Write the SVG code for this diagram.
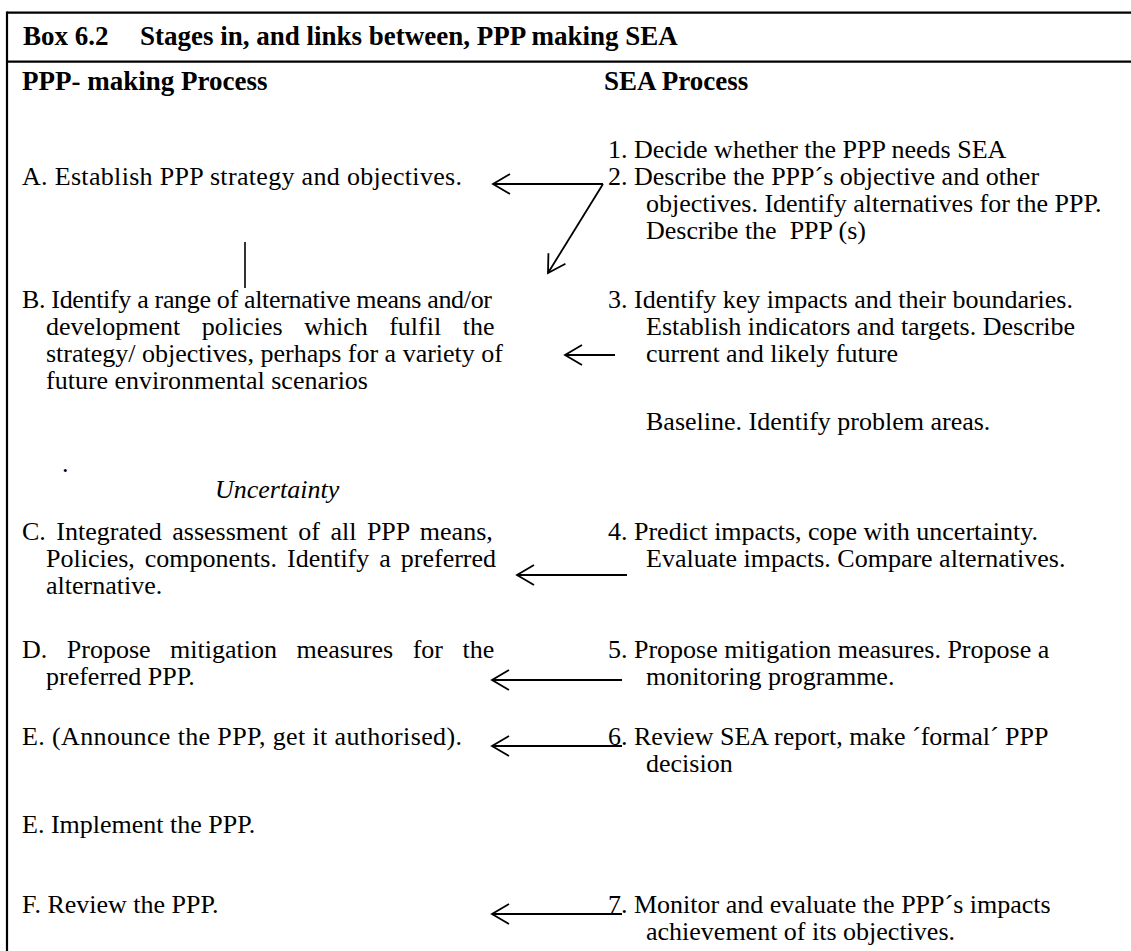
<svg xmlns="http://www.w3.org/2000/svg" width="1131" height="951" viewBox="0 0 1131 951">
<style>
text{font-family:"Liberation Serif","Times New Roman",serif;font-size:26px;fill:#000}
.b{font-weight:bold;font-size:27px}
.i{font-style:italic}
.frame{stroke:#000;stroke-width:2.2;fill:none}
.arr{stroke:#000;stroke-width:1.8;fill:none;marker-end:url(#ah)}
</style>
<defs>
<marker id="ah" markerUnits="userSpaceOnUse" markerWidth="40" markerHeight="40" viewBox="-20 -20 40 40" refX="0" refY="0" orient="auto" overflow="visible">
<path d="M-17,-10 L0,0 L-17,10" fill="none" stroke="#000" stroke-width="1.8"/>
</marker>
</defs>
<rect width="1131" height="951" fill="#fff"/>
<g id="frame">
<line class="frame" x1="7" y1="12.7" x2="1131" y2="12.7"/>
<line class="frame" x1="7" y1="61.7" x2="1131" y2="61.7"/>
<line class="frame" x1="7" y1="11.6" x2="7" y2="951"/>
</g>
<g id="title">
<text class="b" x="23" y="45">Box 6.2</text>
<text class="b" x="140" y="45">Stages in, and links between, PPP making SEA</text>
</g>
<g id="headers">
<text class="b" x="22" y="90">PPP- making Process</text>
<text class="b" x="604" y="90">SEA Process</text>
</g>
<g id="nodeA"><text x="22" y="185" textLength="440" lengthAdjust="spacing">A. Establish PPP strategy and objectives.</text></g>
<g id="nodeB">
<text x="22" y="308" textLength="470" lengthAdjust="spacing">B. Identify a range of alternative means and/or</text>
<text x="46" y="335" word-spacing="15">development policies which fulfil the</text>
<text x="46" y="362">strategy/ objectives, perhaps for a variety of</text>
<text x="46" y="389">future environmental scenarios</text>
</g>
<g id="dot"><text x="62" y="472">.</text></g>
<g id="uncertainty"><text class="i" x="215" y="498">Uncertainty</text></g>
<g id="nodeC">
<text x="22" y="540" word-spacing="4">C. Integrated assessment of all PPP means,</text>
<text x="46" y="567" word-spacing="3.5">Policies, components. Identify a preferred</text>
<text x="46" y="594">alternative.</text>
</g>
<g id="nodeD">
<text x="22" y="658" word-spacing="13">D. Propose mitigation measures for the</text>
<text x="46" y="685">preferred PPP.</text>
</g>
<g id="nodeE1"><text x="22" y="745" textLength="440" lengthAdjust="spacing">E. (Announce the PPP, get it authorised).</text></g>
<g id="nodeE2"><text x="22" y="833">E. Implement the PPP.</text></g>
<g id="nodeF"><text x="22" y="913">F. Review the PPP.</text></g>
<g id="node1"><text x="608" y="158">1. Decide whether the PPP needs SEA</text></g>
<g id="node2">
<text x="608" y="185">2. Describe the PPP´s objective and other</text>
<text x="646" y="212">objectives. Identify alternatives for the PPP.</text>
<text x="646" y="239" xml:space="preserve">Describe the  PPP (s)</text>
</g>
<g id="node3">
<text x="608" y="308">3. Identify key impacts and their boundaries.</text>
<text x="646" y="335">Establish indicators and targets. Describe</text>
<text x="646" y="362">current and likely future</text>
<text x="646" y="430">Baseline. Identify problem areas.</text>
</g>
<g id="node4">
<text x="608" y="540">4. Predict impacts, cope with uncertainty.</text>
<text x="646" y="567">Evaluate impacts. Compare alternatives.</text>
</g>
<g id="node5">
<text x="608" y="658">5. Propose mitigation measures. Propose a</text>
<text x="646" y="685">monitoring programme.</text>
</g>
<g id="node6">
<text x="608" y="745">6. Review SEA report, make ´formal´ PPP</text>
<text x="646" y="772">decision</text>
</g>
<g id="node7">
<text x="608" y="913">7. Monitor and evaluate the PPP´s impacts</text>
<text x="646" y="940">achievement of its objectives.</text>
</g>
<g id="connectors">
<line class="arr" x1="603" y1="184" x2="493" y2="184"/>
<line class="arr" x1="603" y1="184" x2="548" y2="273"/>
<line x1="245" y1="242" x2="245" y2="288" stroke="#000" stroke-width="1.6"/>
<line class="arr" x1="615" y1="355" x2="565" y2="355"/>
<line class="arr" x1="627" y1="575" x2="517" y2="575"/>
<line class="arr" x1="622" y1="680" x2="492" y2="680"/>
<line class="arr" x1="622" y1="746" x2="492" y2="746"/>
<line class="arr" x1="622" y1="914" x2="492" y2="914"/>
</g>
</svg>
